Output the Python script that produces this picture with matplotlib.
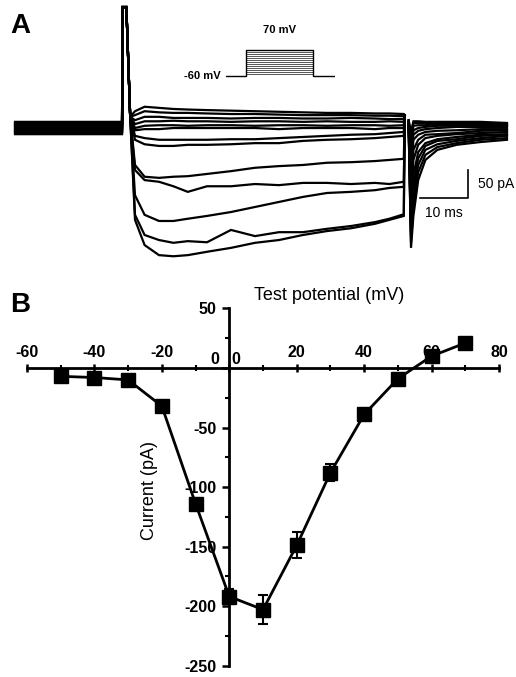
import numpy as np
import matplotlib
matplotlib.use("Agg")
import matplotlib.pyplot as plt

plt.rcParams['font.family'] = ['Liberation Sans', 'DejaVu Sans']
plt.rcParams['axes.unicode_minus'] = False

# ---------------- panel A : current traces (ms, pA) ----------------
hold_t = [0.0, 22.3]
spike_t = [22.4, 23.2, 24.0]
spike_i = [216, 216, 20]
step_t = [25, 27, 30, 33, 36, 40, 45, 50, 55, 60, 65, 70, 75, 78, 81]
off_t, off_i = 81.2, 23
tail_t = [82.0, 82.5, 83.0, 84.0, 85.5, 88, 92, 97, 102.5]

hold_levels = [-11, -9, -7, -5, -4, -2, 0, 2, 4, 5, 7, 9, 11]

step_1 = [-164, -209, -227, -229, -227, -221, -214, -205, -200, -191, -184, -179, -171, -164, -157]
step_2 = [-155, -191, -200, -205, -202, -204, -182, -193, -186, -186, -180, -175, -168, -162, -154]
step_3 = [-120, -155, -166, -166, -162, -157, -150, -141, -132, -123, -116, -114, -111, -107, -105]
step_4 = [-75, -93, -96, -104, -114, -104, -104, -100, -102, -98, -98, -100, -98, -100, -96]
step_5 = [-66, -87, -89, -87, -86, -82, -77, -71, -68, -66, -62, -61, -59, -57, -55]
step_6 = [-21, -29, -32, -32, -30, -30, -29, -27, -27, -23, -21, -20, -18, -16, -14]
step_7 = [-14, -18, -21, -21, -21, -21, -20, -20, -18, -16, -14, -12, -11, -9, -7]
step_8 = [-4, -2, -2, 0, 0, 0, 0, 0, -2, 0, 0, 0, -2, 0, 0]
step_9 = [0, 4, 5, 5, 4, 5, 5, 4, 5, 5, 4, 5, 5, 4, 5]
step_10 = [7, 12, 12, 13, 12, 12, 11, 12, 12, 11, 12, 11, 11, 12, 11]
step_11 = [14, 20, 20, 18, 18, 18, 17, 18, 18, 17, 17, 18, 17, 16, 16]
step_12 = [23, 30, 28, 27, 27, 26, 25, 25, 24, 23, 23, 23, 22, 22, 21]
step_13 = [30, 38, 36, 34, 33, 32, 31, 30, 29, 28, 27, 27, 26, 26, 25]

tail_1 = [5, -214, -157, -93, -57, -39, -30, -25, -21]
tail_2 = [5, -204, -141, -79, -48, -34, -27, -21, -18]
tail_3 = [7, -193, -120, -66, -39, -29, -23, -18, -14]
tail_4 = [7, -182, -102, -54, -32, -23, -20, -14, -12]
tail_5 = [9, -168, -84, -43, -27, -20, -16, -12, -11]
tail_6 = [9, -129, -57, -30, -18, -14, -11, -9, -7]
tail_7 = [9, -111, -39, -21, -12, -11, -9, -5, -4]
tail_8 = [11, -84, -21, -12, -7, -5, -4, -2, -2]
tail_9 = [11, -66, -12, -5, -2, 0, 2, 2, 2]
tail_10 = [12, -48, -4, 0, 2, 4, 4, 4, 4]
tail_11 = [12, -30, 4, 5, 5, 7, 7, 7, 5]
tail_12 = [14, -18, 9, 9, 9, 9, 9, 9, 7]
tail_13 = [14, -7, 12, 12, 11, 11, 11, 11, 9]

steps = [step_1, step_2, step_3, step_4, step_5, step_6, step_7,
         step_8, step_9, step_10, step_11, step_12, step_13]
tails = [tail_1, tail_2, tail_3, tail_4, tail_5, tail_6, tail_7,
         tail_8, tail_9, tail_10, tail_11, tail_12, tail_13]

# voltage protocol (mV)
holding_mv = -60
test_mv = [-50, -40, -30, -20, -10, 0, 10, 20, 30, 40, 50, 60, 70]
prot_t = [5.7, 23, 81, 100]

# ---------------- panel B : I-V ----------------
volt = [-50, -40, -30, -20, -10, 0, 10, 20, 30, 40, 50, 60, 70]
curr = [-7, -8, -10, -32, -114, -192, -203, -149, -88, -39, -9, 10, 21]
curr_err = [2, 2, 2, 3, 4, 6, 12, 11, 7, 3, 2, 2, 2]

fig = plt.figure(figsize=(5.16, 6.77), dpi=100)

# ---- A ----
axA = fig.add_axes([0, 1 - 265 / 677, 1, 265 / 677])
axA.set_xlim(-3.125, 104.375)
axA.set_ylim(-244.6, 228.6)
axA.axis('off')

for h, s, tl in zip(hold_levels, steps, tails):
    t = hold_t + spike_t + step_t + [off_t, np.nan] + tail_t
    y = [h, h] + spike_i + s + [off_i, np.nan] + tl
    axA.plot(t, y, color='black', lw=1.6, solid_joinstyle='miter')

# scale bar
axA.plot([84.4, 94.4, 94.4], [-125, -125, -75], color='black', lw=1.2)
axA.text(96.5, -100, '50 pA', fontsize=10, va='center', ha='left')
axA.text(89.4, -152, '10 ms', fontsize=10, va='center', ha='center')
fig.text(10 / 516, 1 - 33 / 677, 'A', fontsize=20, fontweight='bold', ha='left', va='baseline')

# protocol inset
axP = fig.add_axes([226 / 516, 1 - 80 / 677, 109 / 516, 35 / 677])
axP.set_xlim(5.7, 100)
axP.set_ylim(-80, 95)
axP.axis('off')
for v in test_mv:
    axP.plot([prot_t[1], prot_t[2]], [v, v], color='#555555', lw=0.7)
axP.plot([prot_t[0], prot_t[1], prot_t[1], prot_t[2], prot_t[2], prot_t[3]],
         [holding_mv, holding_mv, test_mv[-1], test_mv[-1], holding_mv, holding_mv],
         color='black', lw=1.0)
axP.text(1, holding_mv, '-60 mV', fontsize=8, fontweight='bold', ha='right', va='center')
axP.text(52, 170, '70 mV', fontsize=8, fontweight='bold', ha='center', va='center', clip_on=False)

# ---- B ----
axB = fig.add_axes([16.8 / 516, 1 - 671.5 / 677, (509.2 - 16.8) / 516, (671.5 - 294.2) / 677])
axB.set_xlim(-63, 83)
axB.set_ylim(-255, 62)
axB.patch.set_alpha(0)

axB.spines['left'].set_position(('data', 0))
axB.spines['left'].set_bounds(-250, 50)
axB.spines['top'].set_position(('data', 0))
axB.spines['top'].set_bounds(-60, 80)
axB.spines['bottom'].set_visible(False)
axB.spines['right'].set_visible(False)
for sp in ('left', 'top'):
    axB.spines[sp].set_linewidth(2.0)

axB.xaxis.set_ticks_position('top')
axB.yaxis.set_ticks_position('left')
xt = [-60, -40, -20, 0, 20, 40, 60, 80]
axB.set_xticks(xt)
axB.set_xticklabels(['' if v == 0 else str(v) for v in xt])
axB.set_xticks(np.arange(-60, 81, 10), minor=True)
yt = [-250, -200, -150, -100, -50, 0, 50]
axB.set_yticks(yt)
axB.set_yticklabels(['' if v == 0 else str(v) for v in yt])
axB.set_yticks(np.arange(-250, 51, 25), minor=True)

axB.tick_params(axis='x', which='major', direction='inout', length=6, width=1.8, pad=3,
                labelsize=11.5)
axB.tick_params(axis='x', which='minor', direction='inout', length=4, width=1.5)
axB.tick_params(axis='y', which='major', direction='out', length=5, width=1.8, pad=4,
                labelsize=11.5)
axB.tick_params(axis='y', which='minor', direction='out', length=3, width=1.5)
for lab in axB.get_xticklabels() + axB.get_yticklabels():
    lab.set_fontweight('bold')

axB.text(-4.4, 7.5, '0', fontsize=11.5, fontweight='bold', ha='center', va='center')
axB.text(1.9, 7.5, '0', fontsize=11.5, fontweight='bold', ha='center', va='center')
axB.text(29.7, 61, 'Test potential (mV)', fontsize=13, ha='center', va='center')
axB.text(-23.8, -103, 'Current (pA)', fontsize=13, rotation=90, ha='center', va='center')

axB.errorbar(volt, curr, yerr=curr_err, color='black', lw=2.0, marker='s', markersize=9.5,
             elinewidth=1.5, capsize=3.5, capthick=1.5, clip_on=False, zorder=5)

fig.text(10 / 516, 1 - 312 / 677, 'B', fontsize=20, fontweight='bold', ha='left', va='baseline')

fig.savefig('out.png', dpi=100)
